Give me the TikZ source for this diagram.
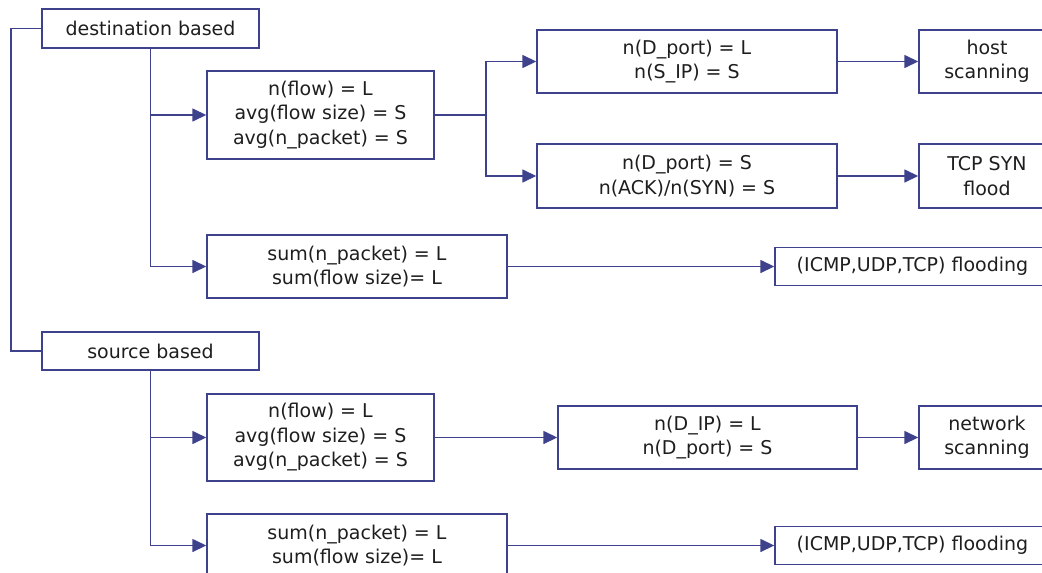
\documentclass[tikz,border=0pt]{standalone}
\usepackage{fontspec}
\setmainfont{DejaVu Sans}
\usetikzlibrary{arrows.meta}
\definecolor{ln}{RGB}{62,66,140}
\definecolor{tx}{RGB}{30,30,30}
\tikzset{
  box/.style={draw=ln, line width=1.4pt, inner sep=0pt, align=center, text=tx,
    font=\fontsize{19}{24.5}\selectfont},
  conn/.style={draw=ln, line width=1.5pt},
  arr/.style={conn, -{Triangle[length=14pt,width=13pt]}},
}
\begin{document}
\begin{tikzpicture}[x=1pt,y=-1pt]
\useasboundingbox (0,0) rectangle (1042,573);
\clip (0,0) rectangle (1042,573);
\node[box, minimum width=217pt, minimum height=39pt] (dst) at (150.5,28.5) {destination based};
\node[box, minimum width=217pt, minimum height=38pt] (src) at (150.5,351) {source based};
\node[box, minimum width=227pt, minimum height=88pt] (a1) at (320.5,115) {n(flow) = L\\avg(flow size) = S\\avg(n\_packet) = S};
\node[box, minimum width=300pt, minimum height=63pt] (b1) at (687,61.5) {n(D\_port) = L\\n(S\_IP) = S};
\node[box, minimum width=300pt, minimum height=64pt] (b2) at (687,176) {n(D\_port) = S\\n(ACK)/n(SYN) = S};
\node[box, minimum width=136pt, minimum height=63pt] (host) at (987,61.5) {host\\scanning};
\node[box, minimum width=136pt, minimum height=64pt] (tcp) at (987,176) {TCP SYN\\flood};
\node[box, minimum width=300pt, minimum height=63pt] (a2) at (357,266.5) {sum(n\_packet) = L\\sum(flow size)= L};
\node[box, minimum width=275pt, minimum height=38pt] (fl1) at (912.5,266.5) {(ICMP,UDP,TCP) flooding};
\node[box, minimum width=227pt, minimum height=87pt] (c1) at (320.5,437.5) {n(flow) = L\\avg(flow size) = S\\avg(n\_packet) = S};
\node[box, minimum width=299pt, minimum height=63pt] (d1) at (707.5,437.5) {n(D\_IP) = L\\n(D\_port) = S};
\node[box, minimum width=136pt, minimum height=63pt] (net) at (987,437.5) {network\\scanning};
\node[box, minimum width=300pt, minimum height=63pt] (c2) at (357,545.5) {sum(n\_packet) = L\\sum(flow size)= L};
\node[box, minimum width=275pt, minimum height=38pt] (fl2) at (912.5,545.5) {(ICMP,UDP,TCP) flooding};
\coordinate (l1) at (11,28.5);
\coordinate (l2) at (11,351);
\coordinate (j1) at (486,115);
\draw[conn] (dst.west) -- (l1) -- (l2) -- (src.west);
\draw[arr] (dst.south) |- (a1.west);
\draw[arr] (dst.south) |- (a2.west);
\draw[conn] (a1.east) -- (j1);
\draw[arr] (j1) |- (b1.west);
\draw[arr] (j1) |- (b2.west);
\draw[arr] (b1.east) -- (host.west);
\draw[arr] (b2.east) -- (tcp.west);
\draw[arr] (a2.east) -- (fl1.west);
\draw[arr] (src.south) |- (c1.west);
\draw[arr] (src.south) |- (c2.west);
\draw[arr] (c1.east) -- (d1.west);
\draw[arr] (d1.east) -- (net.west);
\draw[arr] (c2.east) -- (fl2.west);
\end{tikzpicture}
\end{document}
